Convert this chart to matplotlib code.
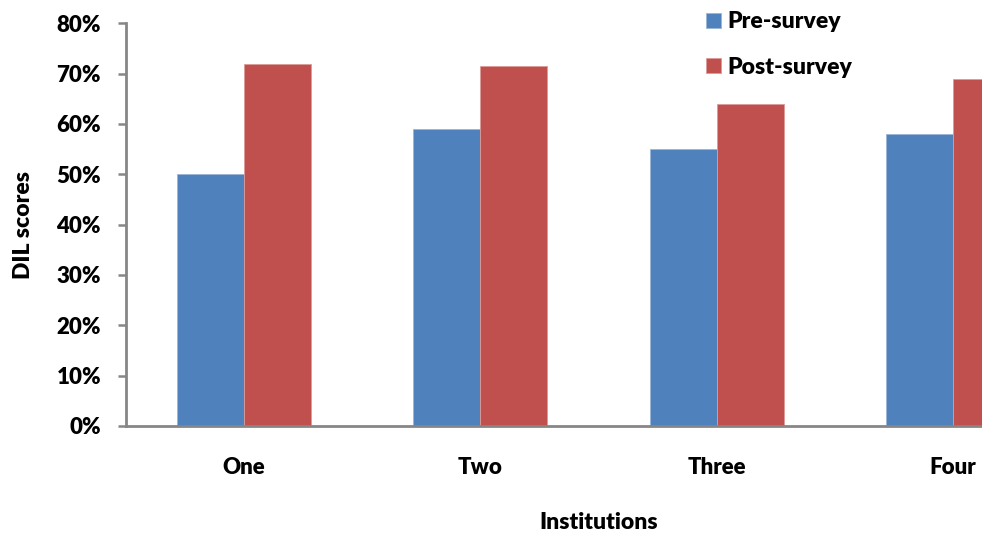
import numpy as np
import matplotlib.pyplot as plt

plt.rcParams['font.family'] = ['Lato', 'DejaVu Sans']
plt.rcParams['font.weight'] = 'heavy'

institutions = ['One', 'Two', 'Three', 'Four']
pre_survey = [50, 59, 55, 58]
post_survey = [72, 71.5, 64, 69]

blue = '#4F81BD'
red = '#C0504D'
axis_grey = '#868686'

fig = plt.figure(figsize=(9.82, 5.33), dpi=100)
# axes run past the right edge, the original picture is cropped there
ax = fig.add_axes([0.1283, 0.2008, 0.9623, 0.7555])

x = np.arange(len(institutions))
w = 0.284
ax.bar(x - w / 2, pre_survey, w, color=blue, edgecolor='#9bb5d8', linewidth=0.6, label='Pre-survey')
ax.bar(x + w / 2, post_survey, w, color=red, edgecolor='#dc9a98', linewidth=0.6, label='Post-survey')

ax.set_xlim(-0.5, 3.5)
ax.set_ylim(0, 80)
ax.set_yticks(np.arange(0, 81, 10))
ax.set_yticklabels([f'{v}%' for v in range(0, 81, 10)], fontsize=16, fontweight='heavy')
ax.set_xticks(x)
ax.set_xticklabels(institutions, fontsize=16, fontweight='heavy')

for s in ['top', 'right']:
    ax.spines[s].set_visible(False)
for s in ['left', 'bottom']:
    ax.spines[s].set_color(axis_grey)
    ax.spines[s].set_linewidth(2)
ax.tick_params(axis='y', length=6, width=1.8, color=axis_grey, pad=12)
ax.tick_params(axis='x', length=0, pad=22)

ax.set_ylabel('DIL scores', fontsize=16.5, fontweight='heavy', labelpad=16)
ax.set_xlabel('Institutions', fontsize=16.5, fontweight='heavy', labelpad=25)

fig.legend(loc='upper left', bbox_to_anchor=(0.707, 1.0), frameon=False,
           prop={'size': 16.5, 'weight': 'heavy'}, labelspacing=1.05,
           handlelength=0.65, handleheight=0.65, handletextpad=0.3, borderpad=0)

fig.savefig('out.png', dpi=100)
